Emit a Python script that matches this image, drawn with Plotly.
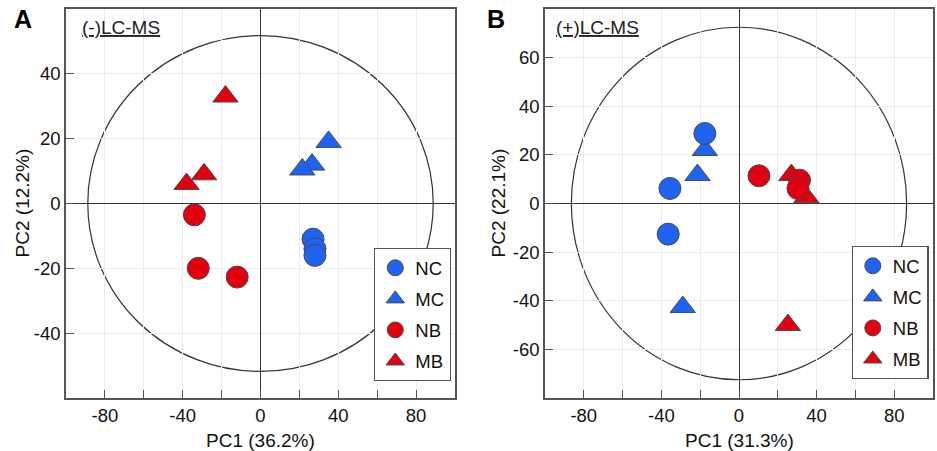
import plotly.graph_objects as go

# ---------------- data ----------------
groups = ["NC", "MC", "NB", "MB"]
symbols = {"NC": "circle", "MC": "triangle-up", "NB": "circle", "MB": "triangle-up"}
colors = {"NC": "#1f63f2", "MC": "#1f63f2", "NB": "#e1000f", "MB": "#e1000f"}

# Panel A: (-)LC-MS
a_NC_x = [27, 28, 28]
a_NC_y = [-11, -14, -16]
a_MC_x = [35, 26.5, 21.5]
a_MC_y = [19, 12, 10.5]
a_NB_x = [-34, -32, -12]
a_NB_y = [-3.5, -20, -22.7]
a_MB_x = [-18, -29, -38]
a_MB_y = [33, 9, 6]

# Panel B: (+)LC-MS
b_NC_x = [-17.6, -35.6, -36.5]
b_NC_y = [28.8, 6.2, -12.6]
b_MC_x = [-17.6, -21.4, -29]
b_MC_y = [22, 11.7, -42.6]
b_NB_x = [10.3, 31.2, 30.4]
b_NB_y = [11.4, 9.6, 6.2]
b_MB_x = [27, 34.7, 25.2]
b_MB_y = [11.7, 2.6, -50]

# Hotelling ellipse radii [x, y]
ellipse_a = [88.8, 51.8]
ellipse_b = [86.4, 72.5]

# axes
x_range = [-100, 100]
a_y_range = [-60, 60]
b_y_range = [-80, 80]
x_tickvals = [-80, -60, -40, -20, 0, 20, 40, 60, 80]
x_ticktext = ["-80", "", "-40", "", "0", "", "40", "", "80"]
a_y_tickvals = [-40, -20, 0, 20, 40]
a_y_ticktext = ["-40", "-20", "0", "20", "40"]
b_y_tickvals = [-60, -40, -20, 0, 20, 40, 60]
b_y_ticktext = ["-60", "-40", "-20", "0", "20", "40", "60"]

a_xtitle, a_ytitle = "PC1 (36.2%)", "PC2 (12.2%)"
b_xtitle, b_ytitle = "PC1 (31.3%)", "PC2 (22.1%)"

panel_data = {
    "a": {"NC": (a_NC_x, a_NC_y), "MC": (a_MC_x, a_MC_y), "NB": (a_NB_x, a_NB_y), "MB": (a_MB_x, a_MB_y)},
    "b": {"NC": (b_NC_x, b_NC_y), "MC": (b_MC_x, b_MC_y), "NB": (b_NB_x, b_NB_y), "MB": (b_MB_x, b_MB_y)},
}

FONT = "Arial, Liberation Sans, Helvetica, sans-serif"
W, H = 937, 451
TOP, BOT = 9, 398

def px(x):
    return x / W

def py(y):
    return (BOT - y) / (BOT - TOP)

fig = go.Figure()

draw_order = ["MC", "NC", "MB", "NB"]
rank = {g: i for i, g in enumerate(groups)}
for panel, xa, ya, leg in [("a", "x", "y", "legend"), ("b", "x2", "y2", "legend2")]:
    for g in draw_order:
        xs, ys = panel_data[panel][g]
        fig.add_trace(go.Scatter(
            x=xs, y=ys, mode="markers", name=g,
            xaxis=xa, yaxis=ya, legend=leg,
            legendgroup=panel + g, legendrank=rank[g] + 1,
            marker=dict(symbol=symbols[g], size=22, color=colors[g],
                        line=dict(color="#4a4a4a", width=1)),
            hoverinfo="x+y+name",
        ))

axis_common = dict(
    showgrid=True, gridcolor="#ececec", gridwidth=1,
    zeroline=True, zerolinecolor="#333333", zerolinewidth=1.2,
    showline=True, mirror=True, linecolor="#555555", linewidth=1.5,
    ticks="inside", ticklen=8, tickwidth=1.3, tickcolor="#555555",
    tickfont=dict(family=FONT, size=18.5, color="#111111"),
)

fig.update_layout(
    width=W, height=H,
    margin=dict(l=0, r=0, t=TOP, b=H - BOT),
    paper_bgcolor="white", plot_bgcolor="white",
    font=dict(family=FONT, color="#111111"),
    xaxis=dict(domain=[px(66), px(455)], range=x_range, tickvals=x_tickvals, ticktext=x_ticktext,
               anchor="y", **axis_common),
    yaxis=dict(domain=[0, 1], range=a_y_range, tickvals=a_y_tickvals, ticktext=a_y_ticktext,
               anchor="x", **axis_common),
    xaxis2=dict(domain=[px(545), px(933)], range=x_range, tickvals=x_tickvals, ticktext=x_ticktext,
                anchor="y2", **axis_common),
    yaxis2=dict(domain=[0, 1], range=b_y_range, tickvals=b_y_tickvals, ticktext=b_y_ticktext,
                anchor="x2", **axis_common),
    legend=dict(x=px(451), xanchor="right", y=py(381), yanchor="bottom",
                bgcolor="white", bordercolor="#555555", borderwidth=1.3,
                font=dict(family=FONT, size=18.5, color="#111111"),
                tracegroupgap=4, itemwidth=30),
    legend2=dict(x=px(928.5), xanchor="right", y=py(379), yanchor="bottom",
                 bgcolor="white", bordercolor="#555555", borderwidth=1.3,
                 font=dict(family=FONT, size=18.5, color="#111111"),
                 tracegroupgap=4, itemwidth=30),
    showlegend=True,
)

# ellipses
for xr, yr, e in [("x", "y", ellipse_a), ("x2", "y2", ellipse_b)]:
    fig.add_shape(type="circle", xref=xr, yref=yr,
                  x0=-e[0], x1=e[0], y0=-e[1], y1=e[1],
                  line=dict(color="#333333", width=1.2), layer="below")

ann = []
common = dict(showarrow=False, xanchor="center", yanchor="middle")
# panel labels
ann.append(dict(text="<b>A</b>", x=px(23), y=py(19), xref="paper", yref="paper",
                font=dict(family=FONT, size=25, color="#000"), **common))
ann.append(dict(text="<b>B</b>", x=px(496), y=py(19), xref="paper", yref="paper",
                font=dict(family=FONT, size=25, color="#000"), **common))
# mode labels
ann.append(dict(text="<u>(-)LC-MS</u>", x=px(80), y=py(27), xref="paper", yref="paper",
                xanchor="left", yanchor="middle", showarrow=False,
                font=dict(family=FONT, size=19, color="#222")))
ann.append(dict(text="<u>(+)LC-MS</u>", x=px(554), y=py(27), xref="paper", yref="paper",
                xanchor="left", yanchor="middle", showarrow=False,
                font=dict(family=FONT, size=19, color="#222")))
# axis titles
ann.append(dict(text=a_xtitle, x=0, xref="x", y=py(440), yref="paper",
                font=dict(family=FONT, size=19, color="#111"), **common))
ann.append(dict(text=b_xtitle, x=0, xref="x2", y=py(440), yref="paper",
                font=dict(family=FONT, size=19, color="#111"), **common))
ann.append(dict(text=a_ytitle, x=px(22), xref="paper", y=0.5, yref="paper", textangle=-90,
                font=dict(family=FONT, size=19, color="#111"), **common))
ann.append(dict(text=b_ytitle, x=px(498), xref="paper", y=0.5, yref="paper", textangle=-90,
                font=dict(family=FONT, size=19, color="#111"), **common))
fig.update_layout(annotations=ann)

fig.write_html("out.html")
